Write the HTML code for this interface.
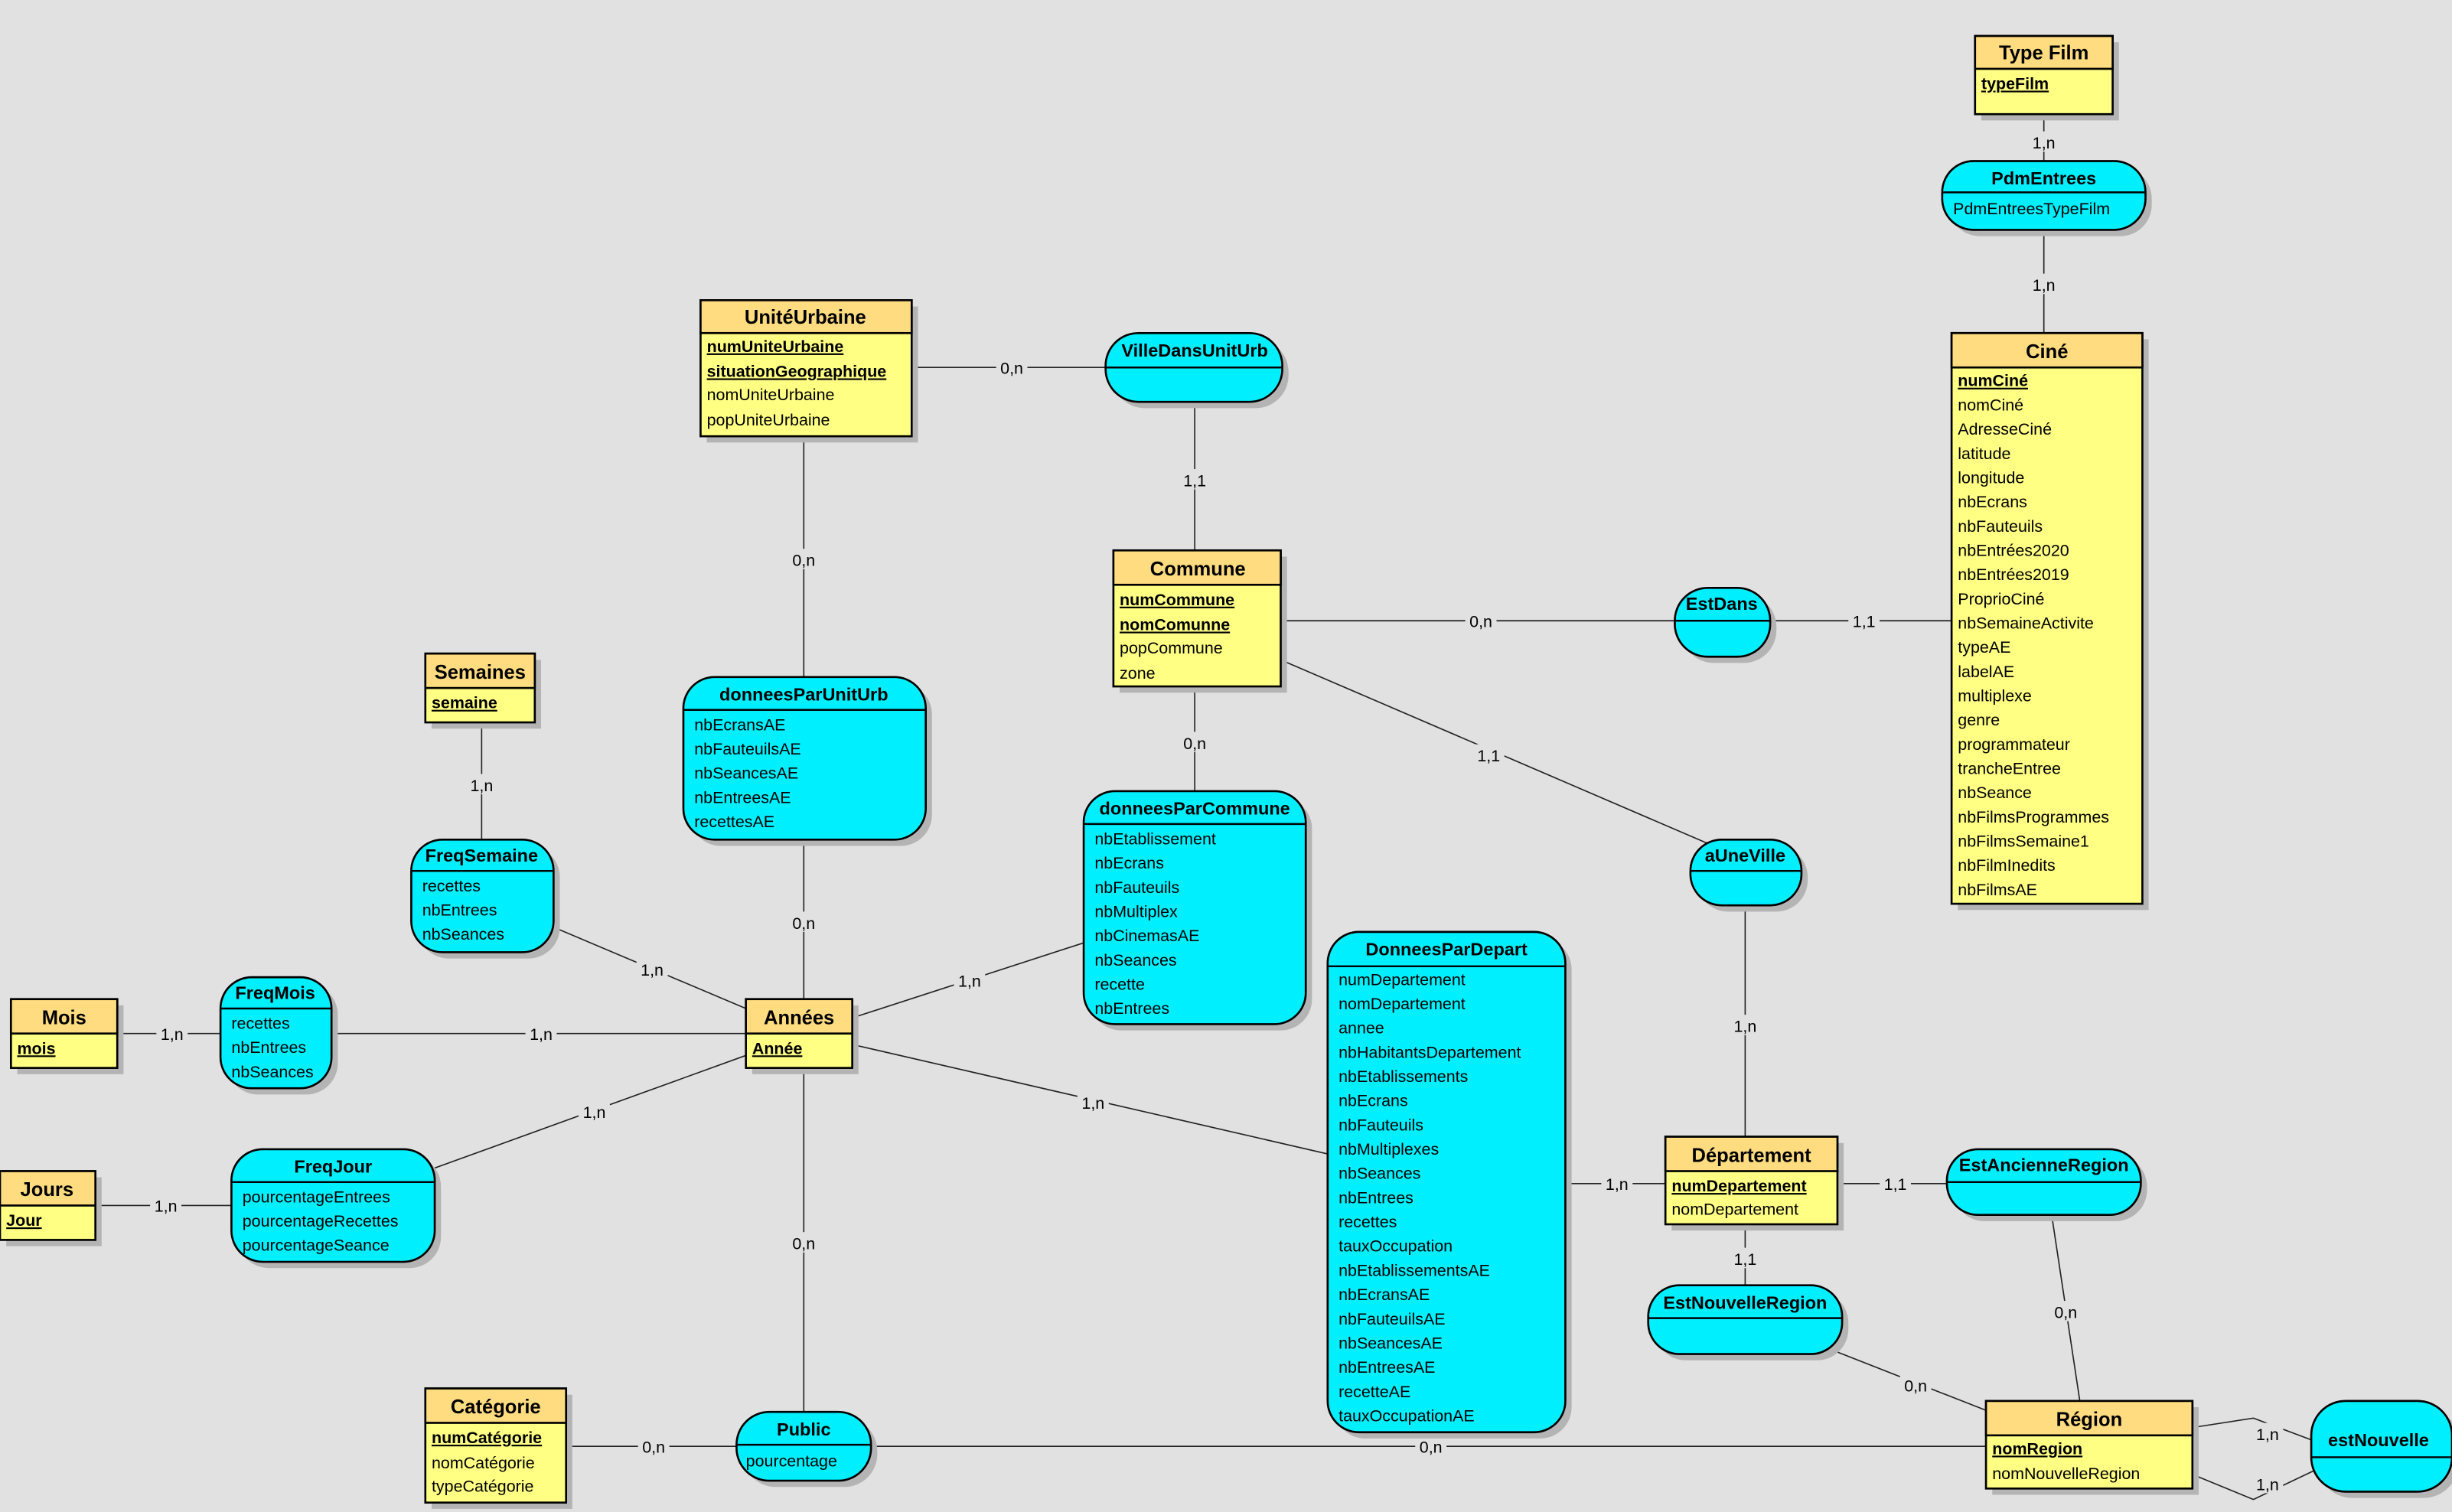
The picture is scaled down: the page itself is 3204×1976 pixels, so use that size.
<!DOCTYPE html>
<html><head><meta charset="utf-8"><style>
html,body{margin:0;padding:0;background:#e1e1e1;}
svg{display:block}
text{font-family:"Liberation Sans",sans-serif;}
.t{font-weight:bold;font-size:11.5px;text-anchor:middle}
.a{font-size:10.5px}
.k{font-size:10.5px;font-weight:bold;text-decoration:underline}
.l{font-size:10.5px;text-anchor:middle}
.ln{stroke:#222;stroke-width:0.8;fill:none}
.sh{fill:#b4b4b4}
.eb{fill:#ffff84;stroke:#000;stroke-width:1.3}
.eh{fill:#ffdc80;stroke:#000;stroke-width:1.3}
.as{fill:#00efff;stroke:#000;stroke-width:1.3}
.lb{fill:#e1e1e1}
</style></head><body>
<svg width="3204" height="1976" viewBox="0 0 1568 967" xmlns="http://www.w3.org/2000/svg">
<rect width="1568" height="967" fill="#e1e1e1"/>
<!-- connectors -->
<g class="ln">
<line x1="1307" y1="73" x2="1307" y2="103"/>
<line x1="1307" y1="147" x2="1307" y2="213"/>
<line x1="583" y1="235" x2="707" y2="235"/>
<line x1="764" y1="257" x2="764" y2="352"/>
<line x1="514" y1="279" x2="514" y2="433"/>
<line x1="819" y1="397" x2="1071" y2="397"/>
<line x1="1132" y1="397" x2="1248" y2="397"/>
<line x1="764" y1="439" x2="764" y2="506"/>
<line x1="819" y1="422" x2="1098" y2="542"/>
<line x1="308" y1="462" x2="308" y2="537"/>
<line x1="514" y1="537" x2="514" y2="639"/>
<line x1="354" y1="593" x2="477" y2="645"/>
<line x1="693" y1="603" x2="545" y2="651"/>
<line x1="75" y1="661" x2="141" y2="661"/>
<line x1="212" y1="661" x2="477" y2="661"/>
<line x1="545" y1="668" x2="849" y2="738"/>
<line x1="278" y1="747" x2="477" y2="675"/>
<line x1="61" y1="771" x2="148" y2="771"/>
<line x1="514" y1="683" x2="514" y2="903"/>
<line x1="1116" y1="579" x2="1116" y2="727"/>
<line x1="1001" y1="757" x2="1065" y2="757"/>
<line x1="1175" y1="757" x2="1245" y2="757"/>
<line x1="1116" y1="783" x2="1116" y2="822"/>
<line x1="1312" y1="777" x2="1330" y2="896"/>
<line x1="1168" y1="862" x2="1270" y2="902"/>
<line x1="362" y1="925" x2="471" y2="925"/>
<line x1="557" y1="925" x2="1270" y2="925"/>
<polyline points="1402,913 1441,907 1481,922"/>
<polyline points="1402,943 1441,959 1481,940"/>
</g>
<!-- cardinality labels -->
<g>
<rect class="lb" x="1297" y="84" width="20" height="13"/><text class="l" x="1307" y="95">1,n</text>
<rect class="lb" x="1297" y="175" width="20" height="13"/><text class="l" x="1307" y="186">1,n</text>
<rect class="lb" x="637" y="228" width="20" height="13"/><text class="l" x="647" y="239">0,n</text>
<rect class="lb" x="754" y="300" width="20" height="13"/><text class="l" x="764" y="311">1,1</text>
<rect class="lb" x="504" y="351" width="20" height="13"/><text class="l" x="514" y="362">0,n</text>
<rect class="lb" x="937" y="390" width="20" height="13"/><text class="l" x="947" y="401">0,n</text>
<rect class="lb" x="1182" y="390" width="20" height="13"/><text class="l" x="1192" y="401">1,1</text>
<rect class="lb" x="754" y="468" width="20" height="13"/><text class="l" x="764" y="479">0,n</text>
<rect class="lb" x="942" y="476" width="20" height="13"/><text class="l" x="952" y="487">1,1</text>
<rect class="lb" x="298" y="495" width="20" height="13"/><text class="l" x="308" y="506">1,n</text>
<rect class="lb" x="504" y="583" width="20" height="13"/><text class="l" x="514" y="594">0,n</text>
<rect class="lb" x="407" y="613" width="20" height="13"/><text class="l" x="417" y="624">1,n</text>
<rect class="lb" x="610" y="620" width="20" height="13"/><text class="l" x="620" y="631">1,n</text>
<rect class="lb" x="100" y="654" width="20" height="13"/><text class="l" x="110" y="665">1,n</text>
<rect class="lb" x="336" y="654" width="20" height="13"/><text class="l" x="346" y="665">1,n</text>
<rect class="lb" x="689" y="698" width="20" height="13"/><text class="l" x="699" y="709">1,n</text>
<rect class="lb" x="370" y="704" width="20" height="13"/><text class="l" x="380" y="715">1,n</text>
<rect class="lb" x="96" y="764" width="20" height="13"/><text class="l" x="106" y="775">1,n</text>
<rect class="lb" x="504" y="788" width="20" height="13"/><text class="l" x="514" y="799">0,n</text>
<rect class="lb" x="1106" y="649" width="20" height="13"/><text class="l" x="1116" y="660">1,n</text>
<rect class="lb" x="1024" y="750" width="20" height="13"/><text class="l" x="1034" y="761">1,n</text>
<rect class="lb" x="1202" y="750" width="20" height="13"/><text class="l" x="1212" y="761">1,1</text>
<rect class="lb" x="1106" y="798" width="20" height="13"/><text class="l" x="1116" y="809">1,1</text>
<rect class="lb" x="1311" y="832" width="20" height="13"/><text class="l" x="1321" y="843">0,n</text>
<rect class="lb" x="1215" y="879" width="20" height="13"/><text class="l" x="1225" y="890">0,n</text>
<rect class="lb" x="408" y="918" width="20" height="13"/><text class="l" x="418" y="929">0,n</text>
<rect class="lb" x="905" y="918" width="20" height="13"/><text class="l" x="915" y="929">0,n</text>
<rect class="lb" x="1440" y="910" width="20" height="13"/><text class="l" x="1450" y="921">1,n</text>
<rect class="lb" x="1440" y="942" width="20" height="13"/><text class="l" x="1450" y="953">1,n</text>
</g>

<!-- ENTITIES -->
<!-- Type Film -->
<rect class="sh" x="1267" y="27" width="88" height="50"/>
<rect class="eb" x="1263" y="23" width="88" height="50"/>
<rect class="eh" x="1263" y="23" width="88" height="21"/>
<text class="t" x="1307" y="38" style="font-size:12.5px">Type Film</text>
<text class="k" x="1267" y="57">typeFilm</text>

<!-- Ciné -->
<rect class="sh" x="1252" y="217" width="122" height="365"/>
<rect class="eb" x="1248" y="213" width="122" height="365"/>
<rect class="eh" x="1248" y="213" width="122" height="22"/>
<text class="t" x="1309" y="229" style="font-size:12.5px">Ciné</text>
<g class="a">
<text class="k" x="1252" y="247">numCiné</text>
<text x="1252" y="262.5">nomCiné</text>
<text x="1252" y="278">AdresseCiné</text>
<text x="1252" y="293.5">latitude</text>
<text x="1252" y="309">longitude</text>
<text x="1252" y="324.5">nbEcrans</text>
<text x="1252" y="340">nbFauteuils</text>
<text x="1252" y="355.5">nbEntrées2020</text>
<text x="1252" y="371">nbEntrées2019</text>
<text x="1252" y="386.5">ProprioCiné</text>
<text x="1252" y="402">nbSemaineActivite</text>
<text x="1252" y="417.5">typeAE</text>
<text x="1252" y="433">labelAE</text>
<text x="1252" y="448.5">multiplexe</text>
<text x="1252" y="464">genre</text>
<text x="1252" y="479.5">programmateur</text>
<text x="1252" y="495">trancheEntree</text>
<text x="1252" y="510.5">nbSeance</text>
<text x="1252" y="526">nbFilmsProgrammes</text>
<text x="1252" y="541.5">nbFilmsSemaine1</text>
<text x="1252" y="557">nbFilmInedits</text>
<text x="1252" y="572.5">nbFilmsAE</text>
</g>

<!-- UnitéUrbaine -->
<rect class="sh" x="452" y="196" width="135" height="87"/>
<rect class="eb" x="448" y="192" width="135" height="87"/>
<rect class="eh" x="448" y="192" width="135" height="21"/>
<text class="t" x="515" y="207" style="font-size:12.5px">UnitéUrbaine</text>
<text class="k" x="452" y="225">numUniteUrbaine</text>
<text class="k" x="452" y="241">situationGeographique</text>
<text class="a" x="452" y="256">nomUniteUrbaine</text>
<text class="a" x="452" y="272">popUniteUrbaine</text>

<!-- Commune -->
<rect class="sh" x="716" y="356" width="107" height="87"/>
<rect class="eb" x="712" y="352" width="107" height="87"/>
<rect class="eh" x="712" y="352" width="107" height="22"/>
<text class="t" x="766" y="368" style="font-size:12.5px">Commune</text>
<text class="k" x="716" y="387">numCommune</text>
<text class="k" x="716" y="403">nomComunne</text>
<text class="a" x="716" y="418">popCommune</text>
<text class="a" x="716" y="434">zone</text>

<!-- Semaines -->
<rect class="sh" x="276" y="422" width="70" height="44"/>
<rect class="eb" x="272" y="418" width="70" height="44"/>
<rect class="eh" x="272" y="418" width="70" height="22"/>
<text class="t" x="307" y="434" style="font-size:12.5px">Semaines</text>
<text class="k" x="276" y="453">semaine</text>

<!-- Mois -->
<rect class="sh" x="11" y="643" width="68" height="44"/>
<rect class="eb" x="7" y="639" width="68" height="44"/>
<rect class="eh" x="7" y="639" width="68" height="22"/>
<text class="t" x="41" y="655" style="font-size:12.5px">Mois</text>
<text class="k" x="11" y="674">mois</text>

<!-- Années -->
<rect class="sh" x="481" y="643" width="68" height="44"/>
<rect class="eb" x="477" y="639" width="68" height="44"/>
<rect class="eh" x="477" y="639" width="68" height="22"/>
<text class="t" x="511" y="655" style="font-size:12.5px">Années</text>
<text class="k" x="481" y="674">Année</text>

<!-- Jours -->
<rect class="sh" x="4" y="753" width="61" height="44"/>
<rect class="eb" x="0" y="749" width="61" height="44"/>
<rect class="eh" x="0" y="749" width="61" height="22"/>
<text class="t" x="30" y="765" style="font-size:12.5px">Jours</text>
<text class="k" x="4" y="784">Jour</text>

<!-- Catégorie -->
<rect class="sh" x="276" y="892" width="90" height="73"/>
<rect class="eb" x="272" y="888" width="90" height="73"/>
<rect class="eh" x="272" y="888" width="90" height="22"/>
<text class="t" x="317" y="904" style="font-size:12.5px">Catégorie</text>
<text class="k" x="276" y="923">numCatégorie</text>
<text class="a" x="276" y="939">nomCatégorie</text>
<text class="a" x="276" y="954">typeCatégorie</text>

<!-- Département -->
<rect class="sh" x="1069" y="731" width="110" height="56"/>
<rect class="eb" x="1065" y="727" width="110" height="56"/>
<rect class="eh" x="1065" y="727" width="110" height="22"/>
<text class="t" x="1120" y="743" style="font-size:12.5px">Département</text>
<text class="k" x="1069" y="762">numDepartement</text>
<text class="a" x="1069" y="777">nomDepartement</text>

<!-- Région -->
<rect class="sh" x="1274" y="900" width="132" height="56"/>
<rect class="eb" x="1270" y="896" width="132" height="56"/>
<rect class="eh" x="1270" y="896" width="132" height="22"/>
<text class="t" x="1336" y="912" style="font-size:12.5px">Région</text>
<text class="k" x="1274" y="930">nomRegion</text>
<text class="a" x="1274" y="946">nomNouvelleRegion</text>

<!-- ASSOCIATIONS -->
<!-- PdmEntrees -->
<rect class="sh" x="1246" y="107" width="130" height="44" rx="20"/>
<rect class="as" x="1242" y="103" width="130" height="44" rx="20"/>
<line class="ln" x1="1242" y1="123" x2="1372" y2="123" style="stroke:#000;stroke-width:1.2"/>
<text class="t" x="1307" y="118">PdmEntrees</text>
<text class="a" x="1249" y="137">PdmEntreesTypeFilm</text>

<!-- VilleDansUnitUrb -->
<rect class="sh" x="711" y="217" width="113" height="44" rx="21"/>
<rect class="as" x="707" y="213" width="113" height="44" rx="21"/>
<line x1="707" y1="235" x2="820" y2="235" stroke="#000" stroke-width="1.2"/>
<text class="t" x="764" y="228">VilleDansUnitUrb</text>

<!-- EstDans -->
<rect class="sh" x="1075" y="380" width="61" height="44" rx="21"/>
<rect class="as" x="1071" y="376" width="61" height="44" rx="21"/>
<line x1="1071" y1="397" x2="1132" y2="397" stroke="#000" stroke-width="1.2"/>
<text class="t" x="1101" y="390">EstDans</text>

<!-- donneesParUnitUrb -->
<rect class="sh" x="441" y="437" width="155" height="104" rx="20"/>
<rect class="as" x="437" y="433" width="155" height="104" rx="20"/>
<line x1="437" y1="454" x2="592" y2="454" stroke="#000" stroke-width="1.2"/>
<text class="t" x="514" y="448">donneesParUnitUrb</text>
<g class="a">
<text x="444" y="467">nbEcransAE</text>
<text x="444" y="482.5">nbFauteuilsAE</text>
<text x="444" y="498">nbSeancesAE</text>
<text x="444" y="513.5">nbEntreesAE</text>
<text x="444" y="529">recettesAE</text>
</g>

<!-- donneesParCommune -->
<rect class="sh" x="697" y="510" width="142" height="149" rx="20"/>
<rect class="as" x="693" y="506" width="142" height="149" rx="20"/>
<line x1="693" y1="527" x2="835" y2="527" stroke="#000" stroke-width="1.2"/>
<text class="t" x="764" y="521">donneesParCommune</text>
<g class="a">
<text x="700" y="540">nbEtablissement</text>
<text x="700" y="555.5">nbEcrans</text>
<text x="700" y="571">nbFauteuils</text>
<text x="700" y="586.5">nbMultiplex</text>
<text x="700" y="602">nbCinemasAE</text>
<text x="700" y="617.5">nbSeances</text>
<text x="700" y="633">recette</text>
<text x="700" y="648.5">nbEntrees</text>
</g>

<!-- FreqSemaine -->
<rect class="sh" x="267" y="541" width="91" height="72" rx="20"/>
<rect class="as" x="263" y="537" width="91" height="72" rx="20"/>
<line x1="263" y1="557" x2="354" y2="557" stroke="#000" stroke-width="1.2"/>
<text class="t" x="308" y="551">FreqSemaine</text>
<g class="a">
<text x="270" y="570">recettes</text>
<text x="270" y="585.5">nbEntrees</text>
<text x="270" y="601">nbSeances</text>
</g>

<!-- FreqMois -->
<rect class="sh" x="145" y="629" width="71" height="71" rx="20"/>
<rect class="as" x="141" y="625" width="71" height="71" rx="20"/>
<line x1="141" y1="645" x2="212" y2="645" stroke="#000" stroke-width="1.2"/>
<text class="t" x="176" y="639">FreqMois</text>
<g class="a">
<text x="148" y="658">recettes</text>
<text x="148" y="673.5">nbEntrees</text>
<text x="148" y="689">nbSeances</text>
</g>

<!-- aUneVille -->
<rect class="sh" x="1085" y="541" width="71" height="42" rx="20"/>
<rect class="as" x="1081" y="537" width="71" height="42" rx="20"/>
<line x1="1081" y1="557" x2="1152" y2="557" stroke="#000" stroke-width="1.2"/>
<text class="t" x="1116" y="551">aUneVille</text>

<!-- DonneesParDepart -->
<rect class="sh" x="853" y="600" width="152" height="320" rx="20"/>
<rect class="as" x="849" y="596" width="152" height="320" rx="20"/>
<line x1="849" y1="618" x2="1001" y2="618" stroke="#000" stroke-width="1.2"/>
<text class="t" x="925" y="611">DonneesParDepart</text>
<g class="a">
<text x="856" y="630">numDepartement</text>
<text x="856" y="645.5">nomDepartement</text>
<text x="856" y="661">annee</text>
<text x="856" y="676.5">nbHabitantsDepartement</text>
<text x="856" y="692">nbEtablissements</text>
<text x="856" y="707.5">nbEcrans</text>
<text x="856" y="723">nbFauteuils</text>
<text x="856" y="738.5">nbMultiplexes</text>
<text x="856" y="754">nbSeances</text>
<text x="856" y="769.5">nbEntrees</text>
<text x="856" y="785">recettes</text>
<text x="856" y="800.5">tauxOccupation</text>
<text x="856" y="816">nbEtablissementsAE</text>
<text x="856" y="831.5">nbEcransAE</text>
<text x="856" y="847">nbFauteuilsAE</text>
<text x="856" y="862.5">nbSeancesAE</text>
<text x="856" y="878">nbEntreesAE</text>
<text x="856" y="893.5">recetteAE</text>
<text x="856" y="909">tauxOccupationAE</text>
</g>

<!-- FreqJour -->
<rect class="sh" x="152" y="739" width="130" height="72" rx="20"/>
<rect class="as" x="148" y="735" width="130" height="72" rx="20"/>
<line x1="148" y1="756" x2="278" y2="756" stroke="#000" stroke-width="1.2"/>
<text class="t" x="213" y="750">FreqJour</text>
<g class="a">
<text x="155" y="769">pourcentageEntrees</text>
<text x="155" y="784.5">pourcentageRecettes</text>
<text x="155" y="800">pourcentageSeance</text>
</g>

<!-- EstAncienneRegion -->
<rect class="sh" x="1249" y="739" width="124" height="42" rx="20"/>
<rect class="as" x="1245" y="735" width="124" height="42" rx="20"/>
<line x1="1245" y1="756" x2="1369" y2="756" stroke="#000" stroke-width="1.2"/>
<text class="t" x="1307" y="749">EstAncienneRegion</text>

<!-- EstNouvelleRegion -->
<rect class="sh" x="1058" y="826" width="124" height="44" rx="20"/>
<rect class="as" x="1054" y="822" width="124" height="44" rx="20"/>
<line x1="1054" y1="843" x2="1178" y2="843" stroke="#000" stroke-width="1.2"/>
<text class="t" x="1116" y="837">EstNouvelleRegion</text>

<!-- Public -->
<rect class="sh" x="475" y="907" width="86" height="44" rx="21"/>
<rect class="as" x="471" y="903" width="86" height="44" rx="21"/>
<line x1="471" y1="924" x2="557" y2="924" stroke="#000" stroke-width="1.2"/>
<text class="t" x="514" y="918">Public</text>
<text class="a" x="477" y="938">pourcentage</text>

<!-- estNouvelle -->
<rect class="sh" x="1482" y="900" width="90" height="58" rx="22"/>
<rect class="as" x="1478" y="896" width="90" height="58" rx="22"/>
<line x1="1478" y1="932" x2="1568" y2="932" stroke="#000" stroke-width="1.2"/>
<text class="t" x="1521" y="925">estNouvelle</text>
</svg>
</body></html>
